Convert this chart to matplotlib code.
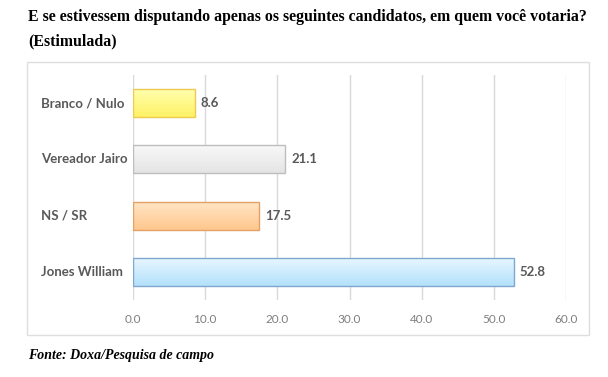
import numpy as np
import matplotlib.pyplot as plt
from matplotlib.colors import LinearSegmentedColormap
from matplotlib.patches import Rectangle
from matplotlib.transforms import blended_transform_factory

categories = ['Jones William', 'NS / SR', 'Vereador Jairo', 'Branco / Nulo']
values = [52.8, 17.5, 21.1, 8.6]
ticks = [0, 10, 20, 30, 40, 50, 60]
# (top colour, bottom colour, edge colour)
bar_colors = [('#e9f7ff', '#b3e1fb', '#7fa7cf'),
              ('#ffe6c6', '#ffc78e', '#e5a066'),
              ('#f9f9f9', '#e4e4e4', '#bdbdbd'),
              ('#ffffb0', '#fff266', '#efca52')]

fig = plt.figure(figsize=(6.08, 3.77), dpi=100)
fig.patch.set_facecolor('white')

# outer chart frame
fig.patches.append(Rectangle((27/608, 1-335/377), (589-27)/608, (335-62)/377,
                             transform=fig.transFigure, fill=False,
                             edgecolor='#dedede', linewidth=1))

ax = fig.add_axes([133/608, 1-300/377, (566-133)/608, (300-75)/377])
ax.set_xlim(0, 60)
ax.set_ylim(-0.5, 3.5)
for s in ax.spines.values():
    s.set_visible(False)
ax.set_xticks(ticks)
ax.set_xticklabels(['%.1f' % t for t in ticks], fontfamily='Lato', fontsize=8.5, color='#7f7f7f')
ax.tick_params(axis='x', length=0, pad=10)
ax.set_yticks([])
ax.grid(axis='x', color='#d9d9d9', linewidth=1)
ax.set_axisbelow(True)

# category labels are left aligned in the original
trans = blended_transform_factory(fig.transFigure, ax.transData)
for i, c in enumerate(categories):
    ax.text(41/608, i, c, transform=trans, ha='left', va='center', fontfamily='Lato',
            fontweight='bold', fontsize=9.5, color='#595959')

h = 0.5
grad = np.linspace(0, 1, 64).reshape(-1, 1)
for i, (v, (c1, c2, ec)) in enumerate(zip(values, bar_colors)):
    cmap = LinearSegmentedColormap.from_list('g%d' % i, [c1, c2])
    im = ax.imshow(grad, cmap=cmap, aspect='auto', origin='upper',
                   extent=(0, v, i - h/2, i + h/2), zorder=2)
    r = ax.barh(i, v, height=h, facecolor='none', edgecolor=ec, linewidth=1, zorder=3)
    im.set_clip_path(r.patches[0])
    ax.text(v + 0.8, i, '%.1f' % v, va='center', ha='left', fontfamily='Lato',
            fontweight='bold', fontsize=9.5, color='#595959')
ax.set_xlim(0, 60)
ax.set_ylim(-0.5, 3.5)

fig.text(28/608, 1-17/377, 'E se estivessem disputando apenas os seguintes candidatos, em quem você votaria?',
         fontfamily='Liberation Serif', fontweight='bold', fontsize=11.4, va='center', ha='left')
fig.text(28/608, 1-41/377, '(Estimulada)',
         fontfamily='Liberation Serif', fontweight='bold', fontsize=11.4, va='center', ha='left')
fig.text(28/608, 1-355/377, 'Fonte: Doxa/Pesquisa de campo',
         fontfamily='Liberation Serif', fontweight='bold', fontstyle='italic', fontsize=10,
         va='center', ha='left')

fig.savefig('out.png', dpi=100)
